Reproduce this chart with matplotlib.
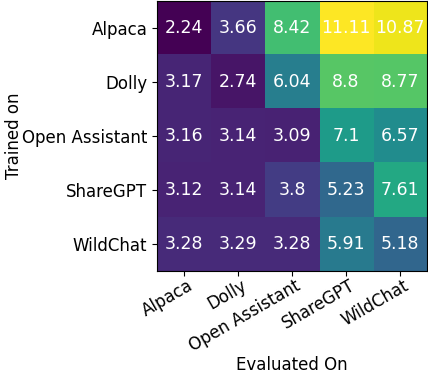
import matplotlib
matplotlib.use("Agg")
import matplotlib.pyplot as plt
import matplotlib.transforms as mtrans
import numpy as np

trained = ["Alpaca", "Dolly", "Open Assistant", "ShareGPT", "WildChat"]
evaluated = ["Alpaca", "Dolly", "Open Assistant", "ShareGPT", "WildChat"]
row_alpaca = [2.24, 3.66, 8.42, 11.11, 10.87]
row_dolly = [3.17, 2.74, 6.04, 8.8, 8.77]
row_oa = [3.16, 3.14, 3.09, 7.1, 6.57]
row_sharegpt = [3.12, 3.14, 3.8, 5.23, 7.61]
row_wildchat = [3.28, 3.29, 3.28, 5.91, 5.18]

data = np.array([row_alpaca, row_dolly, row_oa, row_sharegpt, row_wildchat])

fig = plt.figure(figsize=(4.28, 3.76), dpi=100)
ax = fig.add_axes([0.367, 0.279, 0.631, 0.719])
ax.imshow(data, cmap="viridis", aspect="auto")
for i in range(data.shape[0]):
    for j in range(data.shape[1]):
        ax.text(j, i, f"{data[i, j]:g}", ha="center", va="center", color="white", fontsize=12.5)
ax.set_xticks(range(len(evaluated)))
ax.set_xticklabels(evaluated, rotation=30, ha="right", rotation_mode="anchor", fontsize=12)
offset = mtrans.ScaledTranslation(2 / 72, 3 / 72, fig.dpi_scale_trans)
for lab in ax.get_xticklabels():
    lab.set_transform(lab.get_transform() + offset)
ax.set_yticks(range(len(trained)))
ax.set_yticklabels(trained, fontsize=12)
ax.set_xlabel("Evaluated On", fontsize=12)
ax.set_ylabel("Trained on", fontsize=12)
ax.xaxis.set_label_coords(0.5, -0.315)
ax.yaxis.set_label_coords(-0.497, 0.5)
fig.savefig("out.png", dpi=100)
